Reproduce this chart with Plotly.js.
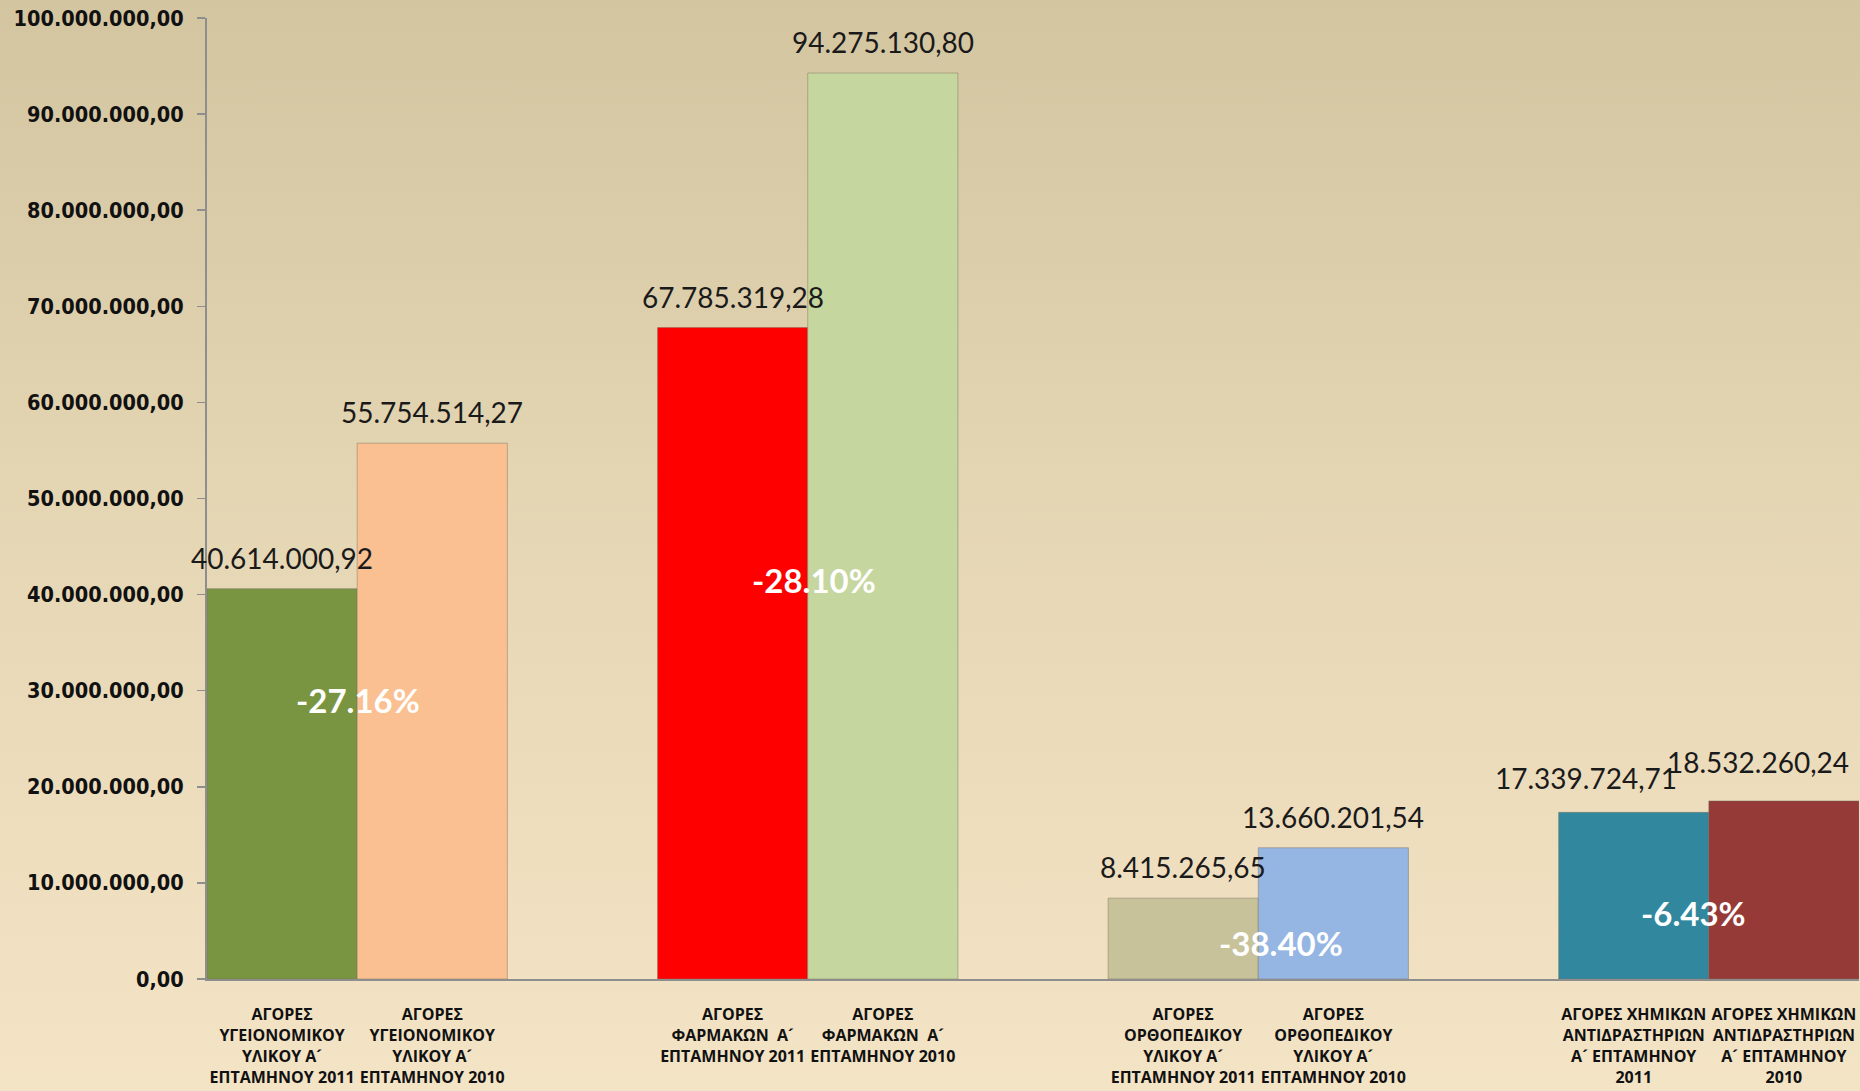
<!DOCTYPE html>
<html>
<head>
<meta charset="utf-8">
<script src="https://cdn.plot.ly/plotly-3.0.1.min.js"></script>
<style>
  html, body { margin: 0; padding: 0; width: 1860px; height: 1091px; overflow: hidden;
    background: linear-gradient(to bottom, #D4C5A1 0%, #E4D5B3 45%, #F4E4C6 100%); }
  #chart { width: 1860px; height: 1091px; }
</style>
</head>
<body>
<div id="chart"></div>
<script>
// ---- data ----
const groups = ['ΥΓΕΙΟΝΟΜΙΚΟΥ', 'ΦΑΡΜΑΚΩΝ', 'ΟΡΘΟΠΕΔΙΚΟΥ', 'ΧΗΜΙΚΩΝ'];
const barLabels = [
  'ΑΓΟΡΕΣ<br>ΥΓΕΙΟΝΟΜΙΚΟΥ<br>ΥΛΙΚΟΥ Α\u00B4<br>ΕΠΤΑΜΗΝΟΥ 2011',
  'ΑΓΟΡΕΣ<br>ΥΓΕΙΟΝΟΜΙΚΟΥ<br>ΥΛΙΚΟΥ Α\u00B4<br>ΕΠΤΑΜΗΝΟΥ 2010',
  'ΑΓΟΡΕΣ<br>ΦΑΡΜΑΚΩΝ  Α\u00B4<br>ΕΠΤΑΜΗΝΟΥ 2011',
  'ΑΓΟΡΕΣ<br>ΦΑΡΜΑΚΩΝ  Α\u00B4<br>ΕΠΤΑΜΗΝΟΥ 2010',
  'ΑΓΟΡΕΣ<br>ΟΡΘΟΠΕΔΙΚΟΥ<br>ΥΛΙΚΟΥ Α\u00B4<br>ΕΠΤΑΜΗΝΟΥ 2011',
  'ΑΓΟΡΕΣ<br>ΟΡΘΟΠΕΔΙΚΟΥ<br>ΥΛΙΚΟΥ Α\u00B4<br>ΕΠΤΑΜΗΝΟΥ 2010',
  'ΑΓΟΡΕΣ ΧΗΜΙΚΩΝ<br>ΑΝΤΙΔΡΑΣΤΗΡΙΩΝ<br>Α\u00B4 ΕΠΤΑΜΗΝΟΥ<br>2011',
  'ΑΓΟΡΕΣ ΧΗΜΙΚΩΝ<br>ΑΝΤΙΔΡΑΣΤΗΡΙΩΝ<br>Α\u00B4 ΕΠΤΑΜΗΝΟΥ<br>2010'
];
const values2011 = [40614000.92, 67785319.28, 8415265.65, 17339724.71];
const values2010 = [55754514.27, 94275130.80, 13660201.54, 18532260.24];
const yTickVals = [0, 10e6, 20e6, 30e6, 40e6, 50e6, 60e6, 70e6, 80e6, 90e6, 100e6];

// ---- styles ----
const colors2011 = ['#7A9541', '#FF0000', '#C7C29A', '#31889E'];
const colors2010 = ['#FAC091', '#C5D69E', '#95B5E2', '#963A38'];
const labelShiftX = [[0, 0], [0, 0], [0, 0], [-48, -26]];
const labelShiftY = [[0, 0], [0, 0], [0, 0], [3, 8]];
const pctStyle = { y: [29.0e6, 41.5e6, 3.7e6, 6.9e6], xshift: [1, 6, 23, -15] };

function fmtGR(v) {
  const s = v.toFixed(2).split('.');
  return s[0].replace(/\B(?=(\d{3})+(?!\d))/g, '.') + ',' + s[1];
}

// positions: each group occupies 3 slots (2 bars + 1 gap)
const xs = [], ys = [], cols = [];
groups.forEach((g, i) => {
  xs.push(3 * i, 3 * i + 1);
  ys.push(values2011[i], values2010[i]);
  cols.push(colors2011[i], colors2010[i]);
});

const trace = {
  type: 'bar',
  x: xs,
  y: ys,
  width: 1,
  marker: { color: cols, line: { color: 'rgba(120,110,90,0.45)', width: 1 } },
  hoverinfo: 'skip'
};

const annotations = [];
xs.forEach((x, k) => {
  const gi = Math.floor(k / 2), bi = k % 2;
  annotations.push({
    x: x, y: ys[k], xref: 'x', yref: 'y',
    text: fmtGR(ys[k]), showarrow: false,
    yanchor: 'bottom', xanchor: 'center',
    yshift: 12 + labelShiftY[gi][bi], xshift: labelShiftX[gi][bi],
    font: { family: 'Lato, "Open Sans", sans-serif', size: 28, color: '#1a1a1a' }
  });
});
groups.forEach((g, i) => {
  const pct = ((values2011[i] - values2010[i]) / values2010[i] * 100).toFixed(2) + '%';
  annotations.push({
    x: 3 * i + 0.5, y: pctStyle.y[i], xref: 'x', yref: 'y',
    text: '<b>' + pct + '</b>', showarrow: false,
    xanchor: 'center', yanchor: 'middle', xshift: pctStyle.xshift[i],
    font: { family: 'Lato, "Open Sans", sans-serif', size: 33, color: '#FFFFFF' }
  });
});

const layout = {
  width: 1860, height: 1091,
  margin: { l: 207, r: 1, t: 17.5, b: 112.3 },
  paper_bgcolor: 'rgba(0,0,0,0)',
  plot_bgcolor: 'rgba(0,0,0,0)',
  separators: ',.',
  showlegend: false,
  xaxis: {
    range: [-0.5, 10.5],
    tickmode: 'array', tickvals: xs, ticktext: barLabels,
    ticks: '', showgrid: false, zeroline: false,
    showline: true, linecolor: '#8E8E8E', linewidth: 2,
    ticklabelstandoff: 20,
    tickfont: { family: '"Open Sans", "Noto Sans", sans-serif', size: 16, color: '#111', weight: 'bold' }
  },
  yaxis: {
    range: [0, 100e6],
    tickmode: 'array', tickvals: yTickVals, ticktext: yTickVals.map(fmtGR),
    ticks: 'outside', ticklen: 8, tickcolor: '#8E8E8E', tickwidth: 1.5,
    showgrid: false, zeroline: false,
    showline: true, linecolor: '#8E8E8E', linewidth: 2,
    ticklabelstandoff: 9,
    tickfont: { family: '"DejaVu Sans Condensed", "DejaVu Sans", sans-serif', size: 21.5, color: '#111', weight: 'bold' }
  },
  annotations: annotations
};

Plotly.newPlot('chart', [trace], layout, { displayModeBar: false, staticPlot: true });
</script>
</body>
</html>
